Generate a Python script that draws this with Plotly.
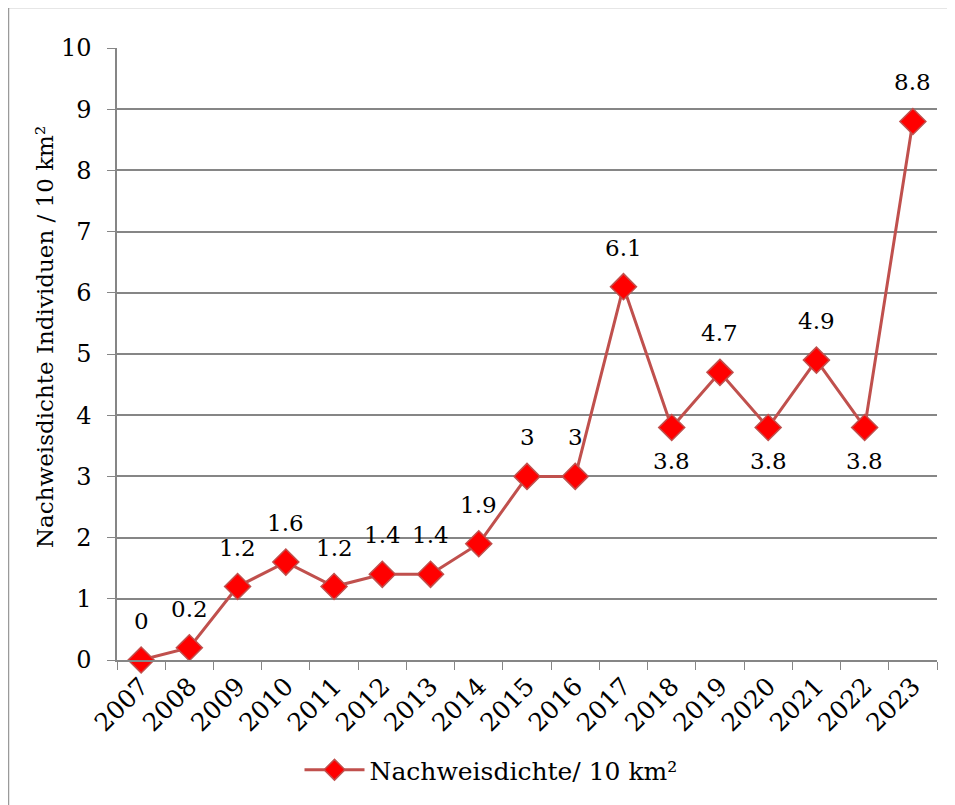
import plotly.graph_objects as go

years = ["2007", "2008", "2009", "2010", "2011", "2012", "2013", "2014", "2015",
         "2016", "2017", "2018", "2019", "2020", "2021", "2022", "2023"]
values = [0, 0.2, 1.2, 1.6, 1.2, 1.4, 1.4, 1.9, 3, 3, 6.1, 3.8, 4.7, 3.8, 4.9, 3.8, 8.8]
labels = ["0", "0.2", "1.2", "1.6", "1.2", "1.4", "1.4", "1.9", "3", "3", "6.1",
          "3.8", "4.7", "3.8", "4.9", "3.8", "8.8"]
below = [v == 3.8 for v in values]
y_title = "Nachweisdichte Individuen / 10 km²"

FONT = "DejaVu Serif"
OFF = 8  # page body margin
W, H = 955 - OFF, 805 - OFF
L, R, T, B = 117 - OFF, 18, 48 - OFF, 145
pw = W - L - R
ph = H - T - B
bottom_px = H - B

fig = go.Figure()
fig.add_trace(go.Scatter(
    x=years, y=values, mode="lines+markers",
    name="Nachweisdichte/ 10 km²",
    line=dict(color="#C0504D", width=3),
    marker=dict(symbol="diamond", size=20, color="#FF0000",
                line=dict(color="#C0504D", width=1.5)),
    cliponaxis=False,
))

for i, (v, t, b) in enumerate(zip(values, labels, below)):
    fig.add_annotation(x=i, y=v, text=t, showarrow=False,
                       yshift=-34 if b else 39,
                       font=dict(family=FONT, size=23, color="black"))

# y-axis title (as rotated annotation to match its offset position)
fig.add_annotation(xref="paper", yref="paper",
                   x=(45 - 117) / pw, y=(660 - 337) / ph,
                   xanchor="center", yanchor="middle", textangle=-90,
                   text=y_title, showarrow=False,
                   font=dict(family=FONT, size=23, color="black"))

fig.add_shape(type="rect", xref="paper", yref="paper",
              x0=(0.5 - L) / pw, x1=(W + 5 - L) / pw,
              y0=(bottom_px - (H + 5)) / ph, y1=(bottom_px + 0.5) / ph,
              line=dict(color="#9a9a9a", width=1.5), fillcolor="rgba(0,0,0,0)",
              layer="below")

fig.update_layout(
    width=W, height=H,
    margin=dict(l=L, r=R, t=T, b=B, autoexpand=False),
    paper_bgcolor="white", plot_bgcolor="white",
    font=dict(family=FONT, size=23, color="black"),
    showlegend=True,
    legend=dict(orientation="h", x=(491 - 117) / pw, xanchor="center",
                y=-(770 - 660) / ph, yanchor="middle",
                font=dict(family=FONT, size=25), itemwidth=60),
    xaxis=dict(type="category", range=[-0.5, 16.5], tickangle=-45,
               tickson="boundaries", automargin=False,
               ticks="outside", ticklen=8, tickcolor="#868686",
               showline=True, linecolor="#868686", linewidth=1.5,
               showgrid=False, tickfont=dict(family=FONT, size=25)),
    yaxis=dict(range=[0, 10], dtick=1, ticks="outside", ticklen=8,
               automargin=False, ticklabelstandoff=11,
               tickcolor="#868686", showline=True, linecolor="#868686",
               linewidth=1.5, showgrid=True, gridcolor="#868686", gridwidth=1.5,
               zeroline=False, tickfont=dict(family=FONT, size=24)),
)

fig.write_html("out.html")
